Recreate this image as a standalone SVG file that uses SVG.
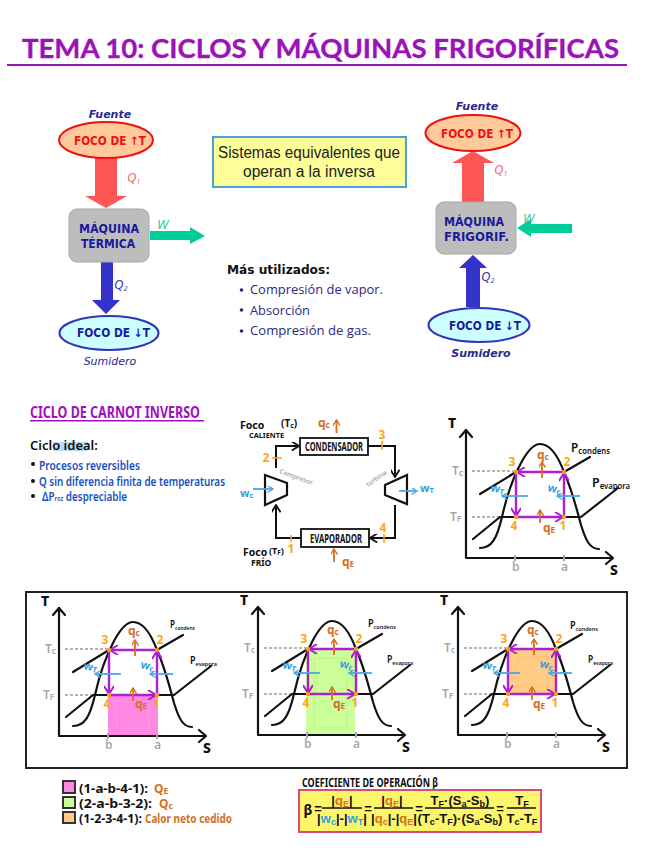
<svg xmlns="http://www.w3.org/2000/svg" xmlns:xlink="http://www.w3.org/1999/xlink" width="646" height="848" viewBox="0 0 646 848">
<style>
text{font-family:"Noto Sans","Liberation Sans",sans-serif}
.title{font-family:Lato,"Liberation Sans",sans-serif;font-weight:700;font-size:26px;fill:#9a12b8;stroke:#9a12b8;stroke-width:.3}
.nb{font-family:"DejaVu Sans","Liberation Sans",sans-serif;font-weight:700;font-size:11.5px}
.navy{fill:#1a1a9c}
.red{fill:#f01010}
.it{font-family:"DejaVu Sans","Liberation Sans",sans-serif;font-style:italic;font-size:11px;text-anchor:middle;fill:#2a2a8c}
.lab{font-family:"Noto Sans",sans-serif;font-style:italic;font-size:13px}
.sub{font-size:7px}
.tah{font-family:"Open Sans","Liberation Sans",sans-serif;font-size:13.5px;fill:#2a2a80}
.hand{font-size:12px;font-weight:600}
.blk{fill:#111}
.ora{fill:#ffa31a;font-weight:700;font-size:12px;text-anchor:middle}
.bro{fill:#d5701e;font-weight:700;font-size:12px}
.blu{fill:#2f9fe0;font-weight:700;font-size:11px}
.gry{fill:#a8a8a8;font-size:12px;font-weight:600}
.cap{font-weight:800;font-size:14px;fill:#111}
.ln{fill:none;stroke:#111;stroke-width:2}
.lnb{fill:none;stroke:#111;stroke-width:2.2;stroke-linecap:round;stroke-linejoin:round}
.pur{fill:none;stroke:#ad1fd0;stroke-width:2.4}
.blue{fill:none;stroke:#4aa8e8;stroke-width:1.8}
.brown{fill:none;stroke:#d5701e;stroke-width:1.8}
.dash{fill:none;stroke:#9a9a9a;stroke-width:1.3;stroke-dasharray:3 2}
.tick{fill:none;stroke:#ffa31a;stroke-width:1.6}
.gt{fill:none;stroke:#a8a8a8;stroke-width:2}
.dot{fill:#ff9a14}
.eq{font-family:"Liberation Sans",sans-serif;font-weight:700;font-size:13px;text-anchor:middle;fill:#111}
.s{font-size:70%}
.eo{fill:#d5701e}
.eb{fill:#2f9fe0}
</style>
<defs>
<marker id="mB" viewBox="0 0 10 10" refX="9" refY="5" markerWidth="9" markerHeight="9" markerUnits="userSpaceOnUse" orient="auto"><path d="M1 0L9 5L1 10" fill="none" stroke="#111" stroke-width="2"/></marker>
<marker id="mP" viewBox="0 0 10 10" refX="9" refY="5" markerWidth="10" markerHeight="10" markerUnits="userSpaceOnUse" orient="auto"><path d="M1 0L9 5L1 10" fill="none" stroke="#ad1fd0" stroke-width="2"/></marker>
<marker id="mU" viewBox="0 0 10 10" refX="9" refY="5" markerWidth="7" markerHeight="7" markerUnits="userSpaceOnUse" orient="auto"><path d="M1 0L9 5L1 10" fill="none" stroke="#4aa8e8" stroke-width="2"/></marker>
<marker id="mO" viewBox="0 0 10 10" refX="9" refY="5" markerWidth="7" markerHeight="7" markerUnits="userSpaceOnUse" orient="auto"><path d="M1 0L9 5L1 10" fill="none" stroke="#d5701e" stroke-width="2"/></marker>
<g id="ts">
<path class="lnb" d="M466 430V558H612"/>
<path class="lnb" d="M460 437L466 430L472 437M606 552L613 558L606 564"/>
<path class="dash" d="M472 471H514M472 517H500"/>
<path class="lnb" d="M480 548C492 548 497 538 502 517C508 490 514 476 521 463C528 450 534 444 540 444C550 444 558 456 564 472C572 490 577 510 581 525C586 541 590 549 599 549"/>
<path class="lnb" d="M480 494L516 472M564 472L590 457M473 539L500 517H581L618 488"/>
<path class="gt" d="M515 555V561M564 555V561"/>
<path class="pur" marker-end="url(#mP)" d="M564 472H517"/>
<path class="pur" marker-end="url(#mP)" d="M516 472V516"/>
<path class="pur" marker-end="url(#mP)" d="M516 517H563"/>
<path class="pur" marker-end="url(#mP)" d="M564 517V473"/>
<path class="blue" marker-end="url(#mU)" d="M528 496H502"/>
<path class="blue" marker-end="url(#mU)" d="M580 496H557"/>
<path class="brown" marker-end="url(#mO)" d="M542 478V462"/>
<path class="brown" marker-end="url(#mO)" d="M540 523V510"/>
<circle class="dot" cx="516" cy="472" r="2.2"/><circle class="dot" cx="564" cy="472" r="2.2"/><circle class="dot" cx="516" cy="517" r="2.2"/><circle class="dot" cx="564" cy="517" r="2.2"/>
</g>
</defs>

<g id="title">
<text class="title" x="22" y="58" textLength="597" lengthAdjust="spacingAndGlyphs">TEMA 10: CICLOS Y MÁQUINAS FRIGORÍFICAS</text>
<rect x="7" y="64" width="620" height="2" fill="#9a12b8"/>
</g>

<g id="connectors-top">
<path fill="#ff5555" d="M95 158H117V196H127L106 208L85 196H95Z"/>
<path fill="#00cc99" d="M150 231H190V227L205 236L190 244V240H150Z"/>
<path fill="#3333cc" d="M101 262H113V300H120L106 314L92 300H101Z"/>
<path fill="#ff5555" d="M462 202V163H452L473 151L494 163H484V202Z"/>
<path fill="#00cc99" d="M517 228L531 219V224H572V233H531V237Z"/>
<path fill="#3333cc" d="M466 307V268H459L473 255L487 268H480V307Z"/>
<text class="lab" x="127" y="182" fill="#f07070">Q<tspan class="sub" dy="2">1</tspan></text>
<text class="lab" x="157" y="229" fill="#33c9a0">W</text>
<text class="lab" x="114" y="289" fill="#3838b0">Q<tspan class="sub" dy="2">2</tspan></text>
<text class="lab" x="494" y="174" fill="#f07070">Q<tspan class="sub" dy="2">1</tspan></text>
<text class="lab" x="523" y="223" fill="#33c9a0">W</text>
<text class="lab" x="481" y="281" fill="#3838b0">Q<tspan class="sub" dy="2">2</tspan></text>
</g>

<g id="fuente-izq">
<text class="it" x="110" y="118" font-weight="700">Fuente</text>
<ellipse cx="106" cy="140" rx="47" ry="18" fill="#ffc99c" stroke="#ee1111" stroke-width="2"/>
<text class="nb red" x="74" y="145" textLength="72" lengthAdjust="spacingAndGlyphs">FOCO DE ↑T</text>
</g>
<g id="maquina-termica">
<rect x="69" y="209" width="80" height="53" rx="8" fill="#bdbdbd" stroke="#a8a8a8"/>
<text class="nb navy" x="79" y="233" textLength="60" lengthAdjust="spacingAndGlyphs">MÁQUINA</text>
<text class="nb navy" x="81" y="248" textLength="54" lengthAdjust="spacingAndGlyphs">TÉRMICA</text>
</g>
<g id="sumidero-izq">
<ellipse cx="109" cy="333" rx="49.500" ry="17" fill="#ccffff" stroke="#3333bb" stroke-width="2"/>
<text class="nb navy" x="77" y="337" textLength="73" lengthAdjust="spacingAndGlyphs">FOCO DE ↓T</text>
<text class="it" x="110" y="365">Sumidero</text>
</g>

<g id="equivalentes">
<rect x="213" y="137" width="193" height="50" fill="#ffff99" stroke="#4a9fdc" stroke-width="2"/>
<text x="218" y="158" font-size="16" fill="#222" style="font-family:'Liberation Sans',sans-serif" textLength="182" lengthAdjust="spacingAndGlyphs">Sistemas equivalentes que</text>
<text x="243" y="177" font-size="16" fill="#222" style="font-family:'Liberation Sans',sans-serif" textLength="132" lengthAdjust="spacingAndGlyphs">operan a la inversa</text>
</g>

<g id="mas-utilizados">
<text x="227" y="274" font-size="13" font-weight="700" fill="#111" style="font-family:'DejaVu Sans',sans-serif" textLength="103" lengthAdjust="spacingAndGlyphs">Más utilizados:</text>
<circle cx="241.500" cy="290" r="1.800" fill="#2a2a80"/><text class="tah" x="250" y="294" textLength="133" lengthAdjust="spacingAndGlyphs">Compresión de vapor.</text>
<circle cx="241.500" cy="310" r="1.800" fill="#2a2a80"/><text class="tah" x="250" y="315" textLength="60" lengthAdjust="spacingAndGlyphs">Absorción</text>
<circle cx="241.500" cy="331" r="1.800" fill="#2a2a80"/><text class="tah" x="250" y="335" textLength="121" lengthAdjust="spacingAndGlyphs">Compresión de gas.</text>
</g>

<g id="fuente-der">
<text class="it" x="477" y="110" font-weight="700">Fuente</text>
<ellipse cx="473" cy="133" rx="47.500" ry="18" fill="#ffc99c" stroke="#ee1111" stroke-width="2"/>
<text class="nb red" x="441" y="138" textLength="72" lengthAdjust="spacingAndGlyphs">FOCO DE ↑T</text>
</g>
<g id="maquina-frigorif">
<rect x="436" y="202" width="80" height="52" rx="8" fill="#bdbdbd" stroke="#a8a8a8"/>
<text class="nb navy" x="444" y="226" textLength="60" lengthAdjust="spacingAndGlyphs">MÁQUINA</text>
<text class="nb navy" x="444" y="241" textLength="65" lengthAdjust="spacingAndGlyphs">FRIGORIF.</text>
</g>
<g id="sumidero-der">
<ellipse cx="479" cy="325" rx="50.500" ry="17" fill="#ccffff" stroke="#3333bb" stroke-width="2"/>
<text class="nb navy" x="449" y="330" textLength="72" lengthAdjust="spacingAndGlyphs">FOCO DE ↓T</text>
<text class="it" x="481" y="357" font-weight="700">Sumidero</text>
</g>

<g id="carnot-notas">
<text x="30" y="418" font-size="16" font-weight="700" fill="#a010c0" textLength="170" lengthAdjust="spacingAndGlyphs">CICLO DE CARNOT INVERSO</text>
<rect x="30" y="420" width="174" height="1.500" fill="#a010c0"/>
<rect x="53" y="442" width="35" height="9" fill="#b8dcf5"/>
<text class="hand blk" x="30" y="450" style="font-size:13px">Ciclo ideal:</text>
<circle cx="33" cy="464" r="2" fill="#111"/><circle cx="33" cy="481" r="2" fill="#111"/><circle cx="33" cy="496" r="2" fill="#111"/>
<text class="hand" x="39" y="470" fill="#1a4fc0" textLength="101" lengthAdjust="spacingAndGlyphs">Procesos reversibles</text>
<text class="hand" x="39" y="486" fill="#1a4fc0" textLength="186" lengthAdjust="spacingAndGlyphs">Q sin diferencia finita de temperaturas</text>
<text class="hand" x="42" y="501" fill="#1a4fc0" textLength="85" lengthAdjust="spacingAndGlyphs">ΔP<tspan font-size="7">roz</tspan> despreciable</text>
</g>

<g id="ciclo-connectors">
<path class="ln" marker-end="url(#mB)" d="M276 468V446H299"/>
<path class="ln" marker-end="url(#mB)" d="M368 446H395V477"/>
<path class="ln" marker-end="url(#mB)" d="M395 505V538H370"/>
<path class="ln" marker-end="url(#mB)" d="M301 538H276V505"/>
<path class="tick" d="M382 441V450M272 458H282M384 534V543M291 535V542"/>
<path class="brown" marker-end="url(#mO)" d="M336.500 433V420"/>
<path class="brown" marker-end="url(#mO)" d="M334 562V549"/>
</g>
<g id="condensador">
<rect x="300" y="438" width="68" height="17" fill="#fff" stroke="#111" stroke-width="1.800"/>
<text x="305" y="451" font-size="12" font-weight="700" fill="#111" textLength="58" lengthAdjust="spacingAndGlyphs">CONDENSADOR</text>
</g>
<g id="evaporador">
<rect x="301" y="529" width="68" height="18" fill="#fff" stroke="#111" stroke-width="1.800"/>
<text x="310" y="542.500" font-size="12" font-weight="700" fill="#111" textLength="52" lengthAdjust="spacingAndGlyphs">EVAPORADOR</text>
</g>
<g id="compresor">
<path d="M265 475L287 483V495L265 505Z" fill="#fff" stroke="#111" stroke-width="2.200"/>
<text x="279" y="473" font-size="6.500" font-weight="600" fill="#a8a8a8" transform="rotate(20 279 473)">Compresor</text>
</g>
<g id="turbina">
<path d="M407 475L385 485V495L407 504Z" fill="#fff" stroke="#111" stroke-width="2.200"/>
<text x="368" y="487" font-size="6.500" font-weight="600" fill="#a8a8a8" transform="rotate(-35 368 487)">turbina</text>
</g>
<g id="ciclo-flechas-w">
<path class="blue" marker-end="url(#mU)" d="M253 489H273"/>
<path class="blue" marker-end="url(#mU)" d="M399 491H417"/>
</g>
<g id="ciclo-labels">
<text x="240" y="429" font-size="10.500" font-weight="700" fill="#111">Foco</text>
<text x="281" y="427" font-size="10" font-weight="700" fill="#111">(T<tspan class="s" dy="1">c</tspan><tspan dy="-1">)</tspan></text>
<text x="249" y="438" font-size="7.500" font-weight="700" fill="#111" textLength="35" lengthAdjust="spacingAndGlyphs">CALIENTE</text>
<text x="243" y="556" font-size="10.500" font-weight="700" fill="#111">Foco</text>
<text x="269" y="554" font-size="9" font-weight="700" fill="#111">(T<tspan class="s" dy="1">F</tspan><tspan dy="-1">)</tspan></text>
<text x="251" y="566" font-size="8.500" font-weight="700" fill="#111">FRÍO</text>
<text class="bro" x="318" y="427">q<tspan class="s" dy="1">c</tspan></text>
<text class="bro" x="342" y="566">q<tspan class="s" dy="1">E</tspan></text>
<text class="ora" x="382" y="439">3</text>
<text class="ora" x="266" y="462">2</text>
<text class="ora" x="383" y="532">4</text>
<text class="ora" x="291" y="553">1</text>
<text class="blu" x="240" y="497">w<tspan class="s" dy="1">c</tspan></text>
<text class="blu" x="420" y="492">w<tspan class="s" dy="1">T</tspan></text>
</g>

<g id="ts-principal">
<use xlink:href="#ts" href="#ts"/>
<text class="cap" x="448" y="428">T</text>
<text class="gry" x="452" y="475">T<tspan class="s" dy="1">c</tspan></text>
<text class="gry" x="450" y="521">T<tspan class="s" dy="1">F</tspan></text>
<text class="ora" x="512" y="466">3</text>
<text class="ora" x="567" y="466">2</text>
<text class="ora" x="514" y="530">4</text>
<text class="ora" x="563" y="530">1</text>
<text class="bro" x="537" y="459">q<tspan class="s" dy="1">c</tspan></text>
<text class="bro" x="543" y="532">q<tspan class="s" dy="1">E</tspan></text>
<text class="blu" x="490" y="491" transform="rotate(12 490 491)">w<tspan class="s" dy="1">T</tspan></text>
<text class="blu" x="547" y="491" transform="rotate(12 547 491)">w<tspan class="s" dy="1">c</tspan></text>
<text class="gry" x="512" y="571">b</text>
<text class="gry" x="561" y="571">a</text>
<text class="cap" x="610" y="575">S</text>
<text x="571" y="452" font-size="13" font-weight="600" fill="#111" textLength="39" lengthAdjust="spacingAndGlyphs">P<tspan font-size="8.500" dy="2">condens</tspan></text>
<text x="592" y="487" font-size="13" font-weight="600" fill="#111" textLength="38" lengthAdjust="spacingAndGlyphs">P<tspan font-size="8" dy="2">evapora</tspan></text>
</g>

<rect id="marco" x="26" y="592" width="601" height="176" fill="none" stroke="#222" stroke-width="2"/>

<g id="ts-1" transform="translate(-407 178)">
<rect x="515" y="517" width="50" height="41" fill="#ff88e4"/>
<rect x="524" y="524" width="32" height="26" fill="none" stroke="#ffa6ec" stroke-dasharray="1 1"/>
<use xlink:href="#ts" href="#ts"/>
<text class="cap" x="448" y="428">T</text>
<text class="gry" x="452" y="475">T<tspan class="s" dy="1">c</tspan></text>
<text class="gry" x="450" y="521">T<tspan class="s" dy="1">F</tspan></text>
<text class="ora" x="512" y="466">3</text>
<text class="ora" x="567" y="466">2</text>
<text class="ora" x="514" y="530">4</text>
<text class="ora" x="563" y="530">1</text>
<text class="bro" x="535" y="457">q<tspan class="s" dy="1">c</tspan></text>
<text class="bro" x="542" y="530">q<tspan class="s" dy="1">E</tspan></text>
<text class="blu" x="490" y="491" transform="rotate(12 490 491)">w<tspan class="s" dy="1">T</tspan></text>
<text class="blu" x="547" y="490" transform="rotate(12 547 490)">w<tspan class="s" dy="1">c</tspan></text>
<text class="gry" x="512" y="571">b</text>
<text class="gry" x="561" y="571">a</text>
<text class="cap" x="610" y="575">S</text>
<text x="577" y="450" font-size="10" font-weight="600" fill="#111" textLength="25" lengthAdjust="spacingAndGlyphs">P<tspan font-size="6" dy="1.500">condens</tspan></text>
<text x="597" y="486" font-size="10" font-weight="600" fill="#111" textLength="27" lengthAdjust="spacingAndGlyphs">P<tspan font-size="6" dy="1.500">evapora</tspan></text>
</g>

<g id="ts-2" transform="translate(-208 177)">
<rect x="514" y="472" width="49" height="86" fill="#ccff99"/>
<rect x="522" y="481" width="33" height="70" fill="none" stroke="#c0f088"/>
<use xlink:href="#ts" href="#ts"/>
<text class="cap" x="448" y="428">T</text>
<text class="gry" x="452" y="475">T<tspan class="s" dy="1">c</tspan></text>
<text class="gry" x="450" y="521">T<tspan class="s" dy="1">F</tspan></text>
<text class="ora" x="512" y="466">3</text>
<text class="ora" x="567" y="466">2</text>
<text class="ora" x="514" y="530">4</text>
<text class="ora" x="563" y="530">1</text>
<text class="bro" x="535" y="457">q<tspan class="s" dy="1">c</tspan></text>
<text class="bro" x="541" y="531">q<tspan class="s" dy="1">E</tspan></text>
<text class="blu" x="490" y="491" transform="rotate(12 490 491)">w<tspan class="s" dy="1">T</tspan></text>
<text class="blu" x="547" y="490" transform="rotate(12 547 490)">w<tspan class="s" dy="1">c</tspan></text>
<text class="gry" x="512" y="571">b</text>
<text class="gry" x="561" y="571">a</text>
<text class="cap" x="610" y="575">S</text>
<text x="576" y="450" font-size="10" font-weight="600" fill="#111" textLength="28" lengthAdjust="spacingAndGlyphs">P<tspan font-size="6" dy="1.500">condens</tspan></text>
<text x="595" y="486" font-size="10" font-weight="600" fill="#111" textLength="26" lengthAdjust="spacingAndGlyphs">P<tspan font-size="6" dy="1.500">evapora</tspan></text>
</g>

<g id="ts-3" transform="translate(-8 177)">
<rect x="516" y="472" width="48" height="45" fill="#ffcc88"/>
<rect x="525" y="480" width="31" height="30" fill="none" stroke="#ffc070"/>
<use xlink:href="#ts" href="#ts"/>
<text class="cap" x="448" y="428">T</text>
<text class="gry" x="452" y="475">T<tspan class="s" dy="1">c</tspan></text>
<text class="gry" x="450" y="521">T<tspan class="s" dy="1">F</tspan></text>
<text class="ora" x="512" y="466">3</text>
<text class="ora" x="567" y="466">2</text>
<text class="ora" x="514" y="530">4</text>
<text class="ora" x="563" y="530">1</text>
<text class="bro" x="535" y="457">q<tspan class="s" dy="1">c</tspan></text>
<text class="bro" x="541" y="531">q<tspan class="s" dy="1">E</tspan></text>
<text class="blu" x="490" y="491" transform="rotate(12 490 491)">w<tspan class="s" dy="1">T</tspan></text>
<text class="blu" x="547" y="490" transform="rotate(12 547 490)">w<tspan class="s" dy="1">c</tspan></text>
<text class="gry" x="512" y="571">b</text>
<text class="gry" x="561" y="571">a</text>
<text class="cap" x="610" y="575">S</text>
<text x="578" y="452" font-size="10" font-weight="600" fill="#111" textLength="28" lengthAdjust="spacingAndGlyphs">P<tspan font-size="6" dy="1.500">condens</tspan></text>
<text x="596" y="486" font-size="10" font-weight="600" fill="#111" textLength="25" lengthAdjust="spacingAndGlyphs">P<tspan font-size="6" dy="1.500">evapora</tspan></text>
</g>

<g id="leyenda">
<rect x="63" y="781" width="12" height="12" fill="#ff88e4" stroke="#333" stroke-width="2"/>
<rect x="63" y="797" width="12" height="11" fill="#ccff99" stroke="#333" stroke-width="2"/>
<rect x="63" y="812" width="12" height="11" fill="#ffcc88" stroke="#333" stroke-width="2"/>
<text x="79" y="793" font-size="13" font-weight="700" fill="#111" textLength="69" lengthAdjust="spacingAndGlyphs">(1-a-b-4-1):</text>
<text class="bro" x="154" y="793">Q<tspan class="s" dy="1">E</tspan></text>
<text x="79" y="808" font-size="13" font-weight="700" fill="#111" textLength="73" lengthAdjust="spacingAndGlyphs">(2-a-b-3-2):</text>
<text class="bro" x="159" y="808">Q<tspan class="s" dy="1">c</tspan></text>
<text x="79" y="823" font-size="13" font-weight="700" fill="#111" textLength="63" lengthAdjust="spacingAndGlyphs">(1-2-3-4-1):</text>
<text class="bro" x="145" y="823" style="font-size:12px" textLength="87" lengthAdjust="spacingAndGlyphs">Calor neto cedido</text>
</g>

<g id="coeficiente">
<text x="302" y="787" font-size="11.500" font-weight="700" fill="#111" textLength="136" lengthAdjust="spacingAndGlyphs">COEFICIENTE DE OPERACIÓN β</text>
<rect x="299" y="790" width="242" height="42" fill="#fdf56a" stroke="#d84a78" stroke-width="2"/>
<text x="308" y="815" font-size="14" font-weight="700" text-anchor="middle" fill="#111">β</text>
<path d="M322 808H362M374 808H413M425 808H494M507 808H536" stroke="#111" stroke-width="1.300"/>
<text class="eq" x="318" y="813">=</text><text class="eq" x="368" y="813">=</text><text class="eq" x="419" y="813">=</text><text class="eq" x="500" y="813">=</text>
<text class="eq" x="342" y="805">|<tspan class="eo">q</tspan><tspan class="eo s" dy="1.500">E</tspan><tspan dy="-1.500">|</tspan></text>
<text class="eq" x="342" y="823">|<tspan class="eb">w</tspan><tspan class="eb s" dy="1.500">c</tspan><tspan dy="-1.500">|-|</tspan><tspan class="eb">w</tspan><tspan class="eb s" dy="1.500">T</tspan><tspan dy="-1.500">|</tspan></text>
<text class="eq" x="392" y="805">|<tspan class="eo">q</tspan><tspan class="eo s" dy="1.500">E</tspan><tspan dy="-1.500">|</tspan></text>
<text class="eq" x="394" y="823">|<tspan class="eo">q</tspan><tspan class="eo s" dy="1.500">c</tspan><tspan dy="-1.500">|-|</tspan><tspan class="eo">q</tspan><tspan class="eo s" dy="1.500">E</tspan><tspan dy="-1.500">|</tspan></text>
<text class="eq" x="460" y="805">T<tspan class="s" dy="1.500">F</tspan><tspan dy="-1.500">·(S</tspan><tspan class="s" dy="1.500">a</tspan><tspan dy="-1.500">-S</tspan><tspan class="s" dy="1.500">b</tspan><tspan dy="-1.500">)</tspan></text>
<text class="eq" x="460" y="823">(T<tspan class="s" dy="1.500">c</tspan><tspan dy="-1.500">-T</tspan><tspan class="s" dy="1.500">F</tspan><tspan dy="-1.500">)·(S</tspan><tspan class="s" dy="1.500">a</tspan><tspan dy="-1.500">-S</tspan><tspan class="s" dy="1.500">b</tspan><tspan dy="-1.500">)</tspan></text>
<text class="eq" x="522" y="805">T<tspan class="s" dy="1.500">F</tspan></text>
<text class="eq" x="522" y="823">T<tspan class="s" dy="1.500">c</tspan><tspan dy="-1.500">-T</tspan><tspan class="s" dy="1.500">F</tspan></text>
</g>
</svg>
